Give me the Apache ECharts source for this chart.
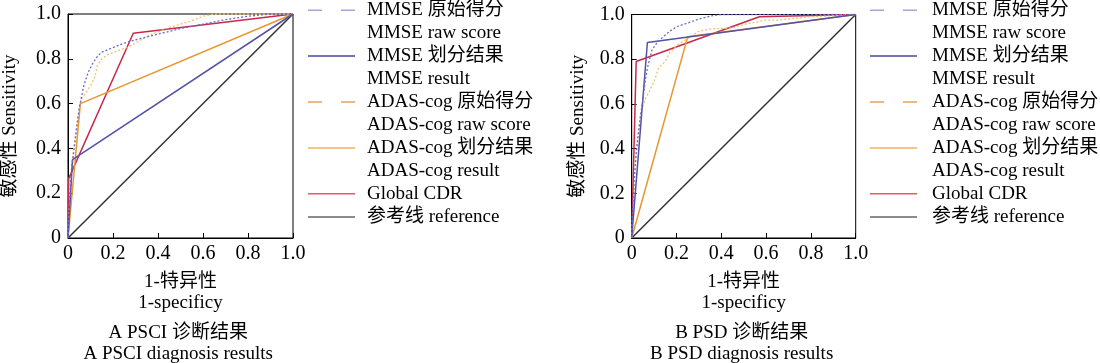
<!DOCTYPE html>
<html><head><meta charset="utf-8">
<script src="https://cdn.jsdelivr.net/npm/echarts@6/dist/echarts.min.js"></script>
<style>html,body{margin:0;padding:0;background:#fff}#c{width:1100px;height:363px}</style>
</head><body><div id="c"></div>
<script>
const FONT = "'Liberation Serif','Times New Roman','Noto Sans CJK SC',serif";

const seriesNames = [
  'MMSE 原始得分\nMMSE raw score',
  'MMSE 划分结果\nMMSE result',
  'ADAS-cog 原始得分\nADAS-cog raw score',
  'ADAS-cog 划分结果\nADAS-cog result',
  'Global CDR',
  '参考线 reference'
];
const tickValues = [0, 0.2, 0.4, 0.6, 0.8, 1.0];
const tickLabels = ['0', '0.2', '0.4', '0.6', '0.8', '1.0'];
const xAxisName = '1-特异性\n1-specificy';
const yAxisName = '敏感性 Sensitivity';
const panelTitles = ['A PSCI 诊断结果\nA PSCI diagnosis results', 'B PSD 诊断结果\nB PSD diagnosis results'];

// Panel A: PSCI
const A_mmseRaw = [[0,0],[0.005,0.1],[0.01,0.22],[0.015,0.3],[0.02,0.34],[0.03,0.42],[0.04,0.5],[0.05,0.58],[0.06,0.63],[0.07,0.68],[0.09,0.74],[0.11,0.78],[0.13,0.81],[0.15,0.83],[0.2,0.85],[0.25,0.87],[0.3,0.885],[0.4,0.91],[0.5,0.935],[0.6,0.955],[0.7,0.975],[0.8,0.99],[0.9,1],[1,1]];
const A_mmseRes = [[0,0],[0.02,0.35],[1,1]];
const A_adasRaw = [[0,0],[0.005,0.12],[0.01,0.2],[0.015,0.3],[0.02,0.36],[0.03,0.44],[0.04,0.52],[0.05,0.58],[0.06,0.62],[0.08,0.65],[0.1,0.68],[0.12,0.72],[0.13,0.77],[0.15,0.8],[0.18,0.82],[0.22,0.835],[0.26,0.85],[0.3,0.87],[0.35,0.9],[0.4,0.92],[0.45,0.94],[0.5,0.955],[0.55,0.97],[0.6,0.99],[0.65,1],[1,1]];
const A_adasRes = [[0,0],[0.055,0.6],[1,1]];
const A_cdr = [[0,0],[0.003,0.265],[0.29,0.914],[1,1]];
// Panel B: PSD
const B_mmseRaw = [[0,0],[0.005,0.15],[0.01,0.25],[0.02,0.38],[0.03,0.47],[0.04,0.55],[0.05,0.62],[0.06,0.7],[0.07,0.76],[0.08,0.8],[0.09,0.84],[0.11,0.87],[0.14,0.9],[0.17,0.925],[0.2,0.945],[0.25,0.962],[0.3,0.98],[0.35,0.993],[0.4,1],[1,1]];
const B_mmseRes = [[0,0],[0.07,0.875],[1,1]];
const B_adasRaw = [[0,0],[0.005,0.1],[0.01,0.2],[0.015,0.3],[0.02,0.38],[0.03,0.48],[0.04,0.56],[0.06,0.62],[0.08,0.66],[0.1,0.7],[0.12,0.76],[0.15,0.79],[0.17,0.83],[0.2,0.86],[0.23,0.88],[0.26,0.9],[0.3,0.925],[0.35,0.935],[0.45,0.94],[0.5,0.955],[0.55,0.965],[0.6,0.975],[0.65,0.975],[0.8,0.99],[1,1]];
const B_adasRes = [[0,0],[0.25,0.9],[1,1]];
const B_cdr = [[0,0],[0.02,0.79],[0.57,0.99],[1,1]];
const refLine = [[0,0],[1,1]];

const panels = [
  [A_mmseRaw, A_mmseRes, A_adasRaw, A_adasRes, A_cdr, refLine],
  [B_mmseRaw, B_mmseRes, B_adasRaw, B_adasRes, B_cdr, refLine]
];

const lineColors = ['#6b6bc6', '#5252a6', '#f0c070', '#e8962e', '#c8284a', '#333333'];
const lineTypes = [[2,2], 'solid', [2,2], 'solid', 'solid', 'solid'];
const legendColors = ['#a4a4d8', '#4a4a9a', '#e8a060', '#f5b060', '#e85a6a', '#666666'];
const dashIcon = 'path://M0,0H14V1.5H0ZM33,0H47V1.5H33Z';
const solidIcon = 'path://M0,0H47V1.5H0Z';
const legendIcons = [dashIcon, solidIcon, dashIcon, solidIcon, solidIcon, solidIcon];

const grids = [
  {left: 67.5, top: 14, width: 225.5, height: 224},
  {left: 631.7, top: 14.5, width: 224, height: 223.5}
];
const legendLeft = [308, 870];
const textGap = [7, 10];
const yNameGap = [48, 44];
const L = 22.66;

function legendText(name) {
  const k = seriesNames.indexOf(name);
  const lines = name.split('\n');
  if (k < 4) return '{e| }\n' + lines.map(s => '{a|' + s + '}').join('\n');
  if (k === 4) return '{e| }\n{a|' + lines[0] + '}\n{e| }';
  return '{r|' + lines[0] + '}';
}
const richBase = {fontFamily: FONT, fontSize: 19, color: '#000'};

const option = {
  animation: false,
  title: panelTitles.map((t, i) => ({
    text: t,
    left: grids[i].left + grids[i].width / 2 - 2,
    top: 322,
    textAlign: 'center',
    padding: 0,
    textStyle: {fontFamily: FONT, fontSize: 19, fontWeight: 'normal', color: '#000', lineHeight: 21.5}
  })),
  grid: grids.map(g => Object.assign({show: true, borderColor: '#000', borderWidth: 1, containLabel: false}, g)),
  legend: [0, 1].map(i => ({
    orient: 'vertical',
    left: legendLeft[i],
    top: 12 - 1.5 * L,
    padding: 0,
    itemGap: -18.4,
    itemWidth: 47,
    itemHeight: 1.5,
    symbolKeepAspect: false,
    selectedMode: false,
    itemStyle: {borderWidth: 0},
    formatter: legendText,
    textStyle: {
      fontFamily: FONT, fontSize: 19, color: '#000',
      padding: [0, 0, 0, textGap[i]],
      rich: {
        e: Object.assign({lineHeight: L}, richBase),
        a: Object.assign({lineHeight: L}, richBase),
        r: Object.assign({lineHeight: 29.3}, richBase)
      }
    },
    data: seriesNames.map((n, k) => ({
      name: n,
      icon: legendIcons[k],
      itemStyle: {color: legendColors[k], borderWidth: 0}
    }))
  })),
  xAxis: [0, 1].map(i => ({
    type: 'value', gridIndex: i, min: 0, max: 1, interval: 0.2,
    name: xAxisName, nameLocation: 'middle', nameGap: 34,
    nameTextStyle: {fontFamily: FONT, fontSize: 19, color: '#000', lineHeight: 21},
    axisLine: {show: true, lineStyle: {color: '#000', width: 1}},
    axisTick: {show: true, inside: true, length: 5, lineStyle: {color: '#000'}},
    splitLine: {show: false},
    axisLabel: {fontFamily: FONT, fontSize: 20, color: '#000', margin: 6,
      formatter: (v) => tickLabels[tickValues.findIndex(t => Math.abs(t - v) < 1e-6)]}
  })),
  yAxis: [0, 1].map(i => ({
    type: 'value', gridIndex: i, min: 0, max: 1, interval: 0.2,
    name: yAxisName, nameLocation: 'middle', nameGap: yNameGap[i],
    nameTextStyle: {fontFamily: FONT, fontSize: 19, color: '#000'},
    axisLine: {show: true, lineStyle: {color: '#000', width: 1}},
    axisTick: {show: true, inside: true, length: 5, lineStyle: {color: '#000'}},
    splitLine: {show: false},
    axisLabel: {fontFamily: FONT, fontSize: 20, color: '#000', margin: 7,
      formatter: (v) => tickLabels[tickValues.findIndex(t => Math.abs(t - v) < 1e-6)]}
  })),
  series: []
};

panels.forEach((p, i) => {
  p.forEach((data, k) => {
    option.series.push({
      type: 'line', name: seriesNames[k], xAxisIndex: i, yAxisIndex: i,
      data: data, symbol: 'none', showSymbol: false, smooth: false,
      z: k === 5 ? 1 : 2 + (5 - k),
      itemStyle: {color: legendColors[k]},
      lineStyle: {color: lineColors[k], width: k === 0 || k === 2 ? 1.3 : 1.5, type: lineTypes[k]}
    });
  });
});

const chart = echarts.init(document.getElementById('c'), null, {renderer: 'canvas'});
chart.setOption(option);
</script>
</body></html>
